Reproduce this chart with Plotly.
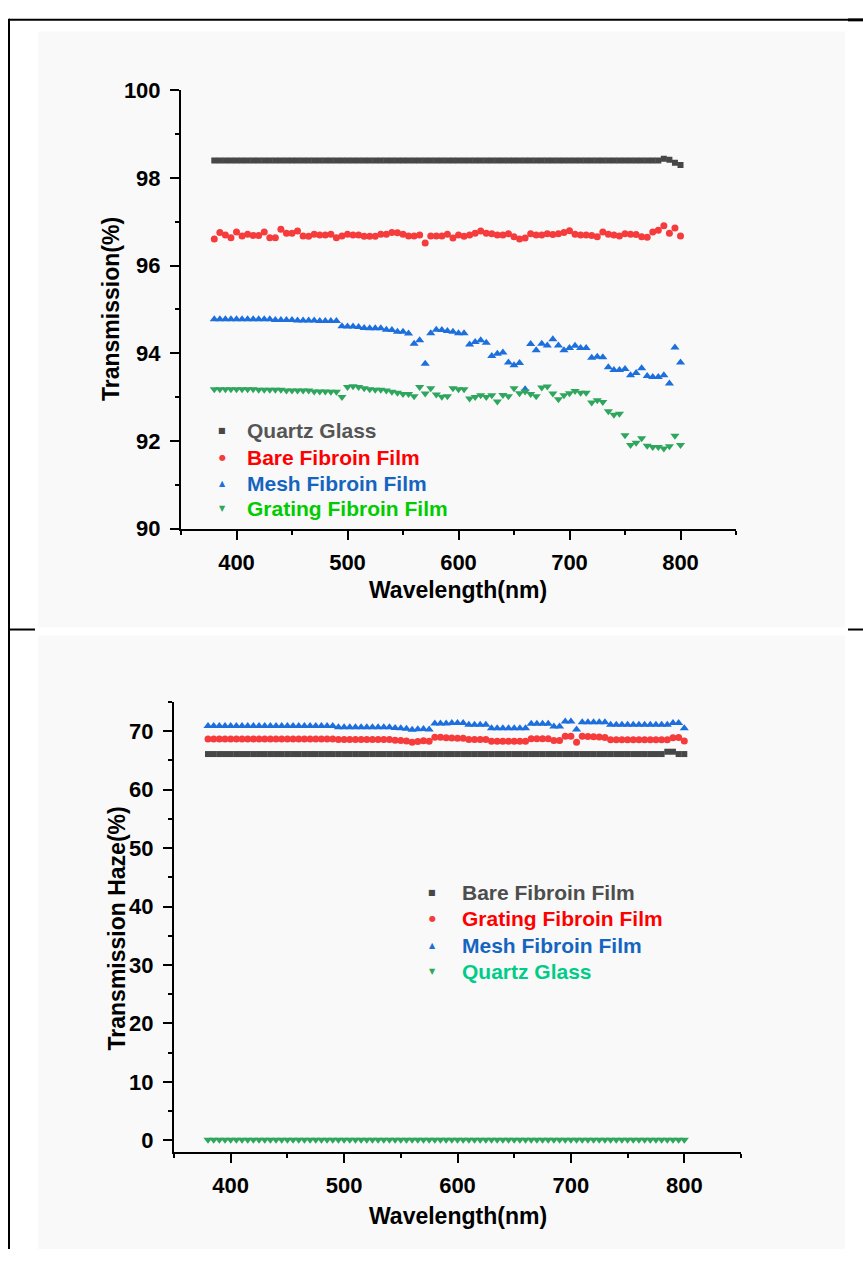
import plotly.graph_objects as go

# ---------------- data ----------------
wavelength = [380, 385, 390, 395, 400, 405, 410, 415, 420, 425, 430, 435, 440, 445, 450,
              455, 460, 465, 470, 475, 480, 485, 490, 495, 500, 505, 510, 515, 520, 525,
              530, 535, 540, 545, 550, 555, 560, 565, 570, 575, 580, 585, 590, 595, 600,
              605, 610, 615, 620, 625, 630, 635, 640, 645, 650, 655, 660, 665, 670, 675,
              680, 685, 690, 695, 700, 705, 710, 715, 720, 725, 730, 735, 740, 745, 750,
              755, 760, 765, 770, 775, 780, 785, 790, 795, 800]

# Top panel: transmission (%)
t_quartz = [98.40, 98.40, 98.40, 98.40, 98.40, 98.40, 98.40, 98.40, 98.40, 98.40,
            98.40, 98.40, 98.40, 98.40, 98.40, 98.40, 98.40, 98.40, 98.40, 98.40,
            98.40, 98.40, 98.40, 98.40, 98.40, 98.40, 98.40, 98.40, 98.40, 98.40,
            98.40, 98.40, 98.40, 98.40, 98.40, 98.40, 98.40, 98.40, 98.40, 98.40,
            98.40, 98.40, 98.40, 98.40, 98.40, 98.40, 98.40, 98.40, 98.40, 98.40,
            98.40, 98.40, 98.40, 98.40, 98.40, 98.40, 98.40, 98.40, 98.40, 98.40,
            98.40, 98.40, 98.40, 98.40, 98.40, 98.40, 98.40, 98.40, 98.40, 98.40,
            98.40, 98.40, 98.40, 98.40, 98.40, 98.40, 98.40, 98.40, 98.40, 98.40,
            98.40, 98.44, 98.42, 98.35, 98.30]
t_bare = [96.61, 96.76, 96.70, 96.64, 96.77, 96.68, 96.72, 96.69, 96.69, 96.77,
          96.64, 96.64, 96.83, 96.74, 96.74, 96.79, 96.68, 96.67, 96.72, 96.70,
          96.70, 96.72, 96.64, 96.68, 96.72, 96.70, 96.70, 96.67, 96.67, 96.67,
          96.72, 96.72, 96.76, 96.75, 96.72, 96.68, 96.68, 96.70, 96.52, 96.68,
          96.68, 96.68, 96.72, 96.63, 96.70, 96.67, 96.70, 96.74, 96.79, 96.74,
          96.73, 96.70, 96.70, 96.73, 96.66, 96.61, 96.63, 96.73, 96.70, 96.70,
          96.73, 96.71, 96.73, 96.76, 96.80, 96.72, 96.70, 96.70, 96.69, 96.66,
          96.77, 96.72, 96.70, 96.68, 96.73, 96.72, 96.71, 96.66, 96.65, 96.77,
          96.81, 96.91, 96.74, 96.86, 96.68]
t_mesh = [94.78, 94.78, 94.78, 94.78, 94.78, 94.78, 94.78, 94.78, 94.78, 94.78,
          94.78, 94.76, 94.76, 94.76, 94.76, 94.75, 94.75, 94.75, 94.75, 94.74,
          94.74, 94.74, 94.74, 94.62, 94.61, 94.61, 94.60, 94.58, 94.57, 94.57,
          94.57, 94.54, 94.53, 94.49, 94.49, 94.45, 94.22, 94.30, 93.76, 94.46,
          94.54, 94.53, 94.51, 94.49, 94.46, 94.46, 94.20, 94.26, 94.30, 94.24,
          93.94, 93.99, 94.02, 93.79, 93.73, 93.78, 93.18, 94.21, 94.07, 94.22,
          94.18, 94.32, 94.18, 94.07, 94.12, 94.17, 94.12, 94.12, 93.90, 93.92,
          93.91, 93.68, 93.62, 93.62, 93.64, 93.50, 93.55, 93.66, 93.48, 93.46,
          93.46, 93.50, 93.31, 94.13, 93.79]
t_grating = [93.18, 93.18, 93.18, 93.18, 93.18, 93.18, 93.18, 93.18, 93.17, 93.17,
             93.17, 93.17, 93.17, 93.15, 93.15, 93.15, 93.15, 93.15, 93.13, 93.13,
             93.13, 93.12, 93.12, 93.00, 93.23, 93.25, 93.23, 93.20, 93.18, 93.17,
             93.17, 93.15, 93.12, 93.10, 93.07, 93.07, 93.02, 93.23, 93.08, 93.20,
             93.06, 93.01, 93.02, 93.20, 93.18, 93.18, 92.97, 93.00, 93.04, 93.00,
             93.04, 92.90, 93.05, 93.02, 93.20, 93.09, 93.13, 93.07, 93.02, 93.22,
             93.24, 93.08, 92.95, 93.04, 93.09, 93.14, 93.10, 93.10, 92.88, 92.93,
             92.89, 92.68, 92.60, 92.62, 92.13, 91.91, 91.96, 92.06, 91.89, 91.86,
             91.86, 91.83, 91.88, 92.12, 91.91]

# Bottom panel: transmission haze (%)
h_bare = [66.10, 66.10, 66.10, 66.10, 66.10, 66.10, 66.10, 66.10, 66.10, 66.10,
          66.10, 66.10, 66.10, 66.10, 66.10, 66.10, 66.10, 66.10, 66.10, 66.10,
          66.10, 66.10, 66.10, 66.10, 66.10, 66.10, 66.10, 66.10, 66.10, 66.10,
          66.10, 66.10, 66.10, 66.10, 66.10, 66.10, 66.10, 66.10, 66.10, 66.10,
          66.10, 66.10, 66.10, 66.10, 66.10, 66.10, 66.10, 66.10, 66.10, 66.10,
          66.10, 66.10, 66.10, 66.10, 66.10, 66.10, 66.10, 66.10, 66.10, 66.10,
          66.10, 66.10, 66.10, 66.10, 66.10, 66.10, 66.10, 66.10, 66.10, 66.10,
          66.10, 66.10, 66.10, 66.10, 66.10, 66.10, 66.10, 66.10, 66.10, 66.10,
          66.10, 66.50, 66.50, 66.10, 66.10]
h_grating = [68.68, 68.68, 68.68, 68.68, 68.68, 68.68, 68.68, 68.68, 68.68, 68.68,
             68.68, 68.68, 68.68, 68.68, 68.68, 68.68, 68.68, 68.68, 68.68, 68.68,
             68.68, 68.68, 68.68, 68.60, 68.60, 68.60, 68.60, 68.60, 68.60, 68.60,
             68.60, 68.60, 68.60, 68.45, 68.42, 68.35, 68.10, 68.25, 68.38, 68.30,
             68.96, 68.96, 68.90, 68.85, 68.80, 68.79, 68.60, 68.60, 68.60, 68.60,
             68.29, 68.29, 68.29, 68.29, 68.29, 68.29, 68.29, 68.74, 68.74, 68.74,
             68.74, 68.40, 68.40, 69.13, 69.13, 68.10, 69.13, 69.10, 69.05, 69.00,
             68.95, 68.55, 68.55, 68.55, 68.55, 68.55, 68.55, 68.55, 68.55, 68.55,
             68.55, 68.55, 68.90, 68.95, 68.35]
h_mesh = [70.92, 70.92, 70.92, 70.92, 70.92, 70.92, 70.92, 70.92, 70.92, 70.92,
          70.92, 70.92, 70.92, 70.92, 70.92, 70.92, 70.92, 70.92, 70.92, 70.92,
          70.92, 70.92, 70.92, 70.70, 70.70, 70.70, 70.70, 70.70, 70.70, 70.70,
          70.70, 70.70, 70.70, 70.55, 70.50, 70.45, 70.25, 70.35, 70.40, 70.30,
          71.35, 71.35, 71.35, 71.40, 71.40, 71.40, 71.10, 71.10, 71.10, 71.10,
          70.50, 70.50, 70.50, 70.50, 70.50, 70.50, 70.50, 71.30, 71.30, 71.30,
          71.30, 70.80, 70.80, 71.65, 71.65, 70.30, 71.55, 71.55, 71.55, 71.55,
          71.55, 71.10, 71.10, 71.10, 71.10, 71.10, 71.10, 71.10, 71.10, 71.10,
          71.10, 71.10, 71.40, 71.40, 70.50]
h_quartz = [0.10, 0.10, 0.10, 0.10, 0.10, 0.10, 0.10, 0.10, 0.10, 0.10,
            0.10, 0.10, 0.10, 0.10, 0.10, 0.10, 0.10, 0.10, 0.10, 0.10,
            0.10, 0.10, 0.10, 0.10, 0.10, 0.10, 0.10, 0.10, 0.10, 0.10,
            0.10, 0.10, 0.10, 0.10, 0.10, 0.10, 0.10, 0.10, 0.10, 0.10,
            0.10, 0.10, 0.10, 0.10, 0.10, 0.10, 0.10, 0.10, 0.10, 0.10,
            0.10, 0.10, 0.10, 0.10, 0.10, 0.10, 0.10, 0.10, 0.10, 0.10,
            0.10, 0.10, 0.10, 0.10, 0.10, 0.10, 0.10, 0.10, 0.10, 0.10,
            0.10, 0.10, 0.10, 0.10, 0.10, 0.10, 0.10, 0.10, 0.10, 0.10,
            0.10, 0.10, 0.10, 0.10, 0.10]

x_tickvals = [400, 500, 600, 700, 800]
top_y_tickvals = [90, 92, 94, 96, 98, 100]
bot_y_tickvals = [0, 10, 20, 30, 40, 50, 60, 70]

top_names = ["Quartz Glass", "Bare Fibroin Film", "Mesh Fibroin Film", "Grating Fibroin Film"]
bot_names = ["Bare Fibroin Film", "Grating Fibroin Film", "Mesh Fibroin Film", "Quartz Glass"]

# ---------------- styling ----------------
W, H = 863, 1262
FONT = "Liberation Sans"
C_GRAY, C_RED, C_BLUE, C_GREEN = "#474747", "#f53b3b", "#1c6fdc", "#2fa65e"


def px(x):
    return x / W


def py(y):
    return 1 - y / H


fig = go.Figure()

top_series = [t_quartz, t_bare, t_mesh, t_grating]
top_style = [("square", C_GRAY, 6), ("circle", C_RED, 7),
             ("triangle-up", C_BLUE, 8), ("triangle-down", C_GREEN, 8)]
for name, ys, (sym, col, sz) in zip(top_names, top_series, top_style):
    fig.add_trace(go.Scatter(x=wavelength, y=ys, mode="markers", name=name,
                             marker=dict(symbol=sym, color=col, size=sz, line=dict(width=0)),
                             xaxis="x", yaxis="y", showlegend=False))

bot_series = [h_bare, h_grating, h_mesh, h_quartz]
bot_style = [("square", C_GRAY, 6), ("circle", C_RED, 7),
             ("triangle-up", C_BLUE, 8), ("triangle-down", C_GREEN, 8)]
for name, ys, (sym, col, sz) in zip(bot_names, bot_series, bot_style):
    fig.add_trace(go.Scatter(x=wavelength, y=ys, mode="markers", name=name,
                             marker=dict(symbol=sym, color=col, size=sz, line=dict(width=0)),
                             xaxis="x2", yaxis="y2", showlegend=False))

tickfont = dict(family=FONT, size=22, color="black", weight="bold")
axcommon = dict(showline=True, linecolor="black", linewidth=2, ticks="outside",
                ticklen=9, tickwidth=2, tickcolor="black", showgrid=False,
                zeroline=False, tickfont=tickfont, mirror=False)

fig.update_layout(
    width=W, height=H,
    margin=dict(l=0, r=0, t=0, b=0),
    paper_bgcolor="white", plot_bgcolor="rgba(0,0,0,0)",
    xaxis=dict(domain=[px(181), px(736)], range=[350, 850], tickvals=x_tickvals,
               anchor="y", ticklabelstandoff=4,
               minor=dict(dtick=50, ticks="outside", ticklen=4, tickwidth=2, tickcolor="black"),
               **axcommon),
    yaxis=dict(domain=[py(527), py(80)], range=[90, 100], tickvals=top_y_tickvals,
               anchor="x", ticklabelstandoff=5,
               minor=dict(dtick=1, ticks="outside", ticklen=4, tickwidth=2, tickcolor="black"),
               **axcommon),
    xaxis2=dict(domain=[px(174), px(741)], range=[350, 850], tickvals=x_tickvals,
                anchor="y2", ticklabelstandoff=4,
                minor=dict(dtick=50, ticks="outside", ticklen=4, tickwidth=2, tickcolor="black"),
                **axcommon),
    yaxis2=dict(domain=[py(1163), py(704)], range=[-2, 75], tickvals=bot_y_tickvals,
                anchor="x2", ticklabelstandoff=5,
                minor=dict(dtick=5, ticks="outside", ticklen=4, tickwidth=2, tickcolor="black"),
                **axcommon),
    showlegend=False,
)

# axis titles as annotations
tfont = dict(family=FONT, size=23, color="black", weight="bold")
fig.add_annotation(text="Transmission(%)", x=px(111), y=py(303), xref="paper", yref="paper",
                   textangle=-90, showarrow=False, font=tfont, xanchor="center", yanchor="middle")
fig.add_annotation(text="Wavelength(nm)", x=px(458), y=py(590), xref="paper", yref="paper",
                   showarrow=False, font=tfont, xanchor="center", yanchor="middle")
fig.add_annotation(text="Transmission Haze(%)", x=px(117), y=py(935), xref="paper", yref="paper",
                   textangle=-90, showarrow=False, font=tfont, xanchor="center", yanchor="middle")
fig.add_annotation(text="Wavelength(nm)", x=px(458), y=py(1228), xref="paper", yref="paper",
                   showarrow=False, font=tfont, xanchor="center", yanchor="middle")

# legends (text-based, matching the Origin-style legends)
legend_glyph = {"square": "■", "circle": "●", "triangle-up": "▲", "triangle-down": "▼"}
top_text_colors = ["#555555", "#ff0000", "#1565c0", "#00cc00"]
bot_text_colors = ["#4d4d4d", "#ff0000", "#1565c0", "#00cc88"]


def add_legend(names, styles, tcolors, sym_x, text_x, row_y):
    for i, (name, (sym, col, _), tcol) in enumerate(zip(names, styles, tcolors)):
        yy = row_y[i]
        fig.add_annotation(text=legend_glyph[sym], x=px(sym_x), y=py(yy), xref="paper",
                           yref="paper", showarrow=False, xanchor="center", yanchor="middle",
                           font=dict(family="DejaVu Sans", size=8, color=col))
        fig.add_annotation(text=name, x=px(text_x), y=py(yy), xref="paper", yref="paper",
                           showarrow=False, xanchor="left", yanchor="middle",
                           font=dict(family=FONT, size=21, color=tcol, weight="bold"))


add_legend(top_names, top_style, top_text_colors, 222, 245, [427, 454, 481, 507])
add_legend(bot_names, bot_style, bot_text_colors, 432, 460, [898, 925, 952, 979])

# background panels and frame
shapes = [
    dict(type="rect", xref="paper", yref="paper", x0=px(38), x1=px(845), y0=py(628), y1=py(20),
         fillcolor="#f9f9f9", line=dict(width=0), layer="below"),
    dict(type="rect", xref="paper", yref="paper", x0=px(38), x1=px(845), y0=py(1262), y1=py(636),
         fillcolor="#f9f9f9", line=dict(width=0), layer="below"),
    dict(type="line", xref="paper", yref="paper", x0=px(9), x1=px(9), y0=py(7), y1=py(1262),
         line=dict(color="black", width=2)),
    dict(type="line", xref="paper", yref="paper", x0=px(9), x1=px(848), y0=py(8), y1=py(8),
         line=dict(color="black", width=2)),
    dict(type="line", xref="paper", yref="paper", x0=px(848), x1=px(863), y0=py(8), y1=py(8),
         line=dict(color="black", width=3)),
    dict(type="line", xref="paper", yref="paper", x0=px(9), x1=px(35), y0=py(630), y1=py(630),
         line=dict(color="black", width=2)),
    dict(type="line", xref="paper", yref="paper", x0=px(848), x1=px(863), y0=py(630), y1=py(630),
         line=dict(color="black", width=2)),
]
fig.update_layout(shapes=shapes)

fig.write_html("out.html", config={"displayModeBar": False},
               post_script="document.body.style.margin='0';document.body.style.padding='0';")
